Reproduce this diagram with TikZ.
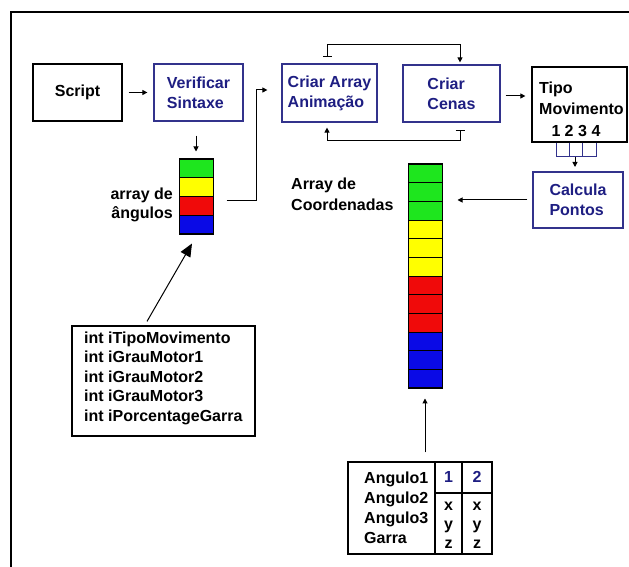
\documentclass[tikz,border=0pt]{standalone}
\usepackage{fontspec}
\setmainfont{Liberation Sans}
\usetikzlibrary{arrows.meta}
\definecolor{navy}{RGB}{30,30,130}
\definecolor{bxblue}{RGB}{50,50,140}
\definecolor{cgreen}{RGB}{30,230,30}
\definecolor{cyellow}{RGB}{255,255,0}
\definecolor{cred}{RGB}{240,10,10}
\definecolor{cblue}{RGB}{10,10,230}
\begin{document}
\begin{tikzpicture}[x=1pt,y=1pt,
  font=\fontsize{16}{20}\selectfont\bfseries,
  box/.style={draw=black, line width=1.2pt, inner sep=0pt, align=left},
  bbox/.style={box, draw=bxblue, text=navy},
  arr/.style={-{Triangle[length=5pt,width=5pt]}, line width=1pt},
  bararr/.style={{Bar[width=9pt]}-{Triangle[length=5pt,width=5pt]}, line width=1pt},
  lbl/.style={inner sep=0pt},
  cell/.style={draw=black, line width=0.8pt},
]
\useasboundingbox (0,0) rectangle (629,567);
\draw[line width=1.5pt] (11,0) -- (11,555) -- (629,555);

% boxes
\node[box, minimum width=89, minimum height=57] (script) at (77.5,474.5) {Script};
\node[bbox, minimum width=89, minimum height=57] (verif) at (198.5,474.5) {Verificar\\Sintaxe};
\node[bbox, minimum width=95, minimum height=58] (crA) at (329.5,474) {Criar Array\\Animação};
\node[bbox, minimum width=97, minimum height=57] (crC) at (451.5,473.5) {Criar\\Cenas};
\node[box, minimum width=95, minimum height=75] (tipo) at (579.5,462.5) {};
\node[lbl, anchor=west, align=left, font=\fontsize{16}{21}\selectfont\bfseries] (tipotxt) at (539,468.5) {Tipo\\Movimento};
\node[lbl] (d1) at (556,436) {1};
\node[lbl] (d2) at (569,436) {2};
\node[lbl] (d3) at (582.5,436) {3};
\node[lbl] (d4) at (596,436) {4};
\node[bbox, minimum width=90, minimum height=56] (calc) at (578,367) {Calcula\\Pontos};

% small array
\foreach \c [count=\i from 0] in {cgreen,cyellow,cred,cblue}
  \filldraw[cell, fill=\c] (179,{408-18.75*\i}) rectangle (213,{408-18.75*(\i+1)});
\node[draw=black, line width=1pt, minimum width=34, minimum height=75, inner sep=0pt] (sarr) at (196,370.5) {};
\node[lbl, anchor=east, align=right, font=\fontsize{16}{19}\selectfont\bfseries] (sarrlbl) at (173,362.5) {array de\\ângulos};

% big array
\foreach \c [count=\i from 0] in {cgreen,cgreen,cgreen,cyellow,cyellow,cyellow,cred,cred,cred,cblue,cblue,cblue}
  \filldraw[cell, fill=\c] (408,{403-18.667*\i}) rectangle (442,{403-18.667*(\i+1)});
\node[draw=black, line width=1pt, minimum width=34, minimum height=224, inner sep=0pt] (barr) at (425,291) {};
\node[lbl, anchor=west, align=left, font=\fontsize{16}{21}\selectfont\bfseries] (barrlbl) at (291,373) {Array de\\Coordenadas};

% variables box
\node[box, minimum width=183, minimum height=110] (vars) at (163.5,186) {};
\node[lbl, anchor=west, align=left, font=\fontsize{16}{19.5}\selectfont\bfseries] (varstxt) at (84,189)
  {int iTipoMovimento\\int iGrauMotor1\\int iGrauMotor2\\int iGrauMotor3\\int iPorcentageGarra};

% table
\node[box, minimum width=144, minimum height=92] (tbl) at (420,59) {};
\draw[line width=1.2pt] (435,13) -- (435,105);
\draw[line width=1.2pt] (462,13) -- (462,105);
\draw[line width=1.2pt] (435,74) -- (492,74);
\node[lbl, anchor=west, align=left, font=\fontsize{16}{20}\selectfont\bfseries] (tbltxt) at (364,59)
  {Angulo1\\Angulo2\\Angulo3\\Garra};
\node[lbl, text=navy] (c1) at (448.5,90) {1};
\node[lbl, text=navy] (c2) at (477,90) {2};
\node[lbl, align=center, font=\fontsize{16}{19}\selectfont\bfseries] (xyz1) at (448.5,42) {x\\y\\z};
\node[lbl, align=center, font=\fontsize{16}{19}\selectfont\bfseries] (xyz2) at (477,42) {x\\y\\z};

% connectors
\draw[arr, shorten <=6pt, shorten >=6pt] (script.east) -- (script.east -| verif.west);
\draw[arr, shorten <=14pt, shorten >=7pt] (verif.south -| sarr.north) -- (sarr.north);
\draw[arr] ([xshift=13pt,yshift=-4.5pt]sarr.east) -- ++(30,0) |- ([xshift=-14pt,yshift=3pt]crA.west);
\draw[bararr] ([xshift=-2.5pt,yshift=6pt]crA.north) -- ++(0,13) -| ([xshift=8.5pt,yshift=2pt]crC.north);
\draw[bararr] ([xshift=8.5pt,yshift=-7pt]crC.south) -- ++(0,-11) -| ([xshift=-2.5pt,yshift=-5pt]crA.south);
\coordinate (cce) at ([yshift=-2.5pt]crC.east);
\draw[arr, shorten <=5pt, shorten >=6pt] (cce) -- (cce -| tipo.west);
\foreach \d in {d1,d2,d3,d4}
  \draw[draw=bxblue, line width=1pt] (\d |- tipo.south) -- (\d |- 0,410);
\draw[draw=bxblue, line width=1pt] (d1 |- 0,410) -- (d4 |- 0,410);
\draw[arr] (575,410) -- (575,400);
\draw[arr, shorten <=5pt, shorten >=15pt] (calc.west) -- (calc.west -| barr.east);
\draw[arr, shorten <=9pt, shorten >=10pt] (tbl.north -| barr.south) -- (barr.south);
\draw[-{Triangle[length=13pt,width=11pt]}, line width=1pt] ([xshift=-16.5pt,yshift=4pt]vars.north) -- ([xshift=-4pt,yshift=-9pt]sarr.south);
\end{tikzpicture}
\end{document}
